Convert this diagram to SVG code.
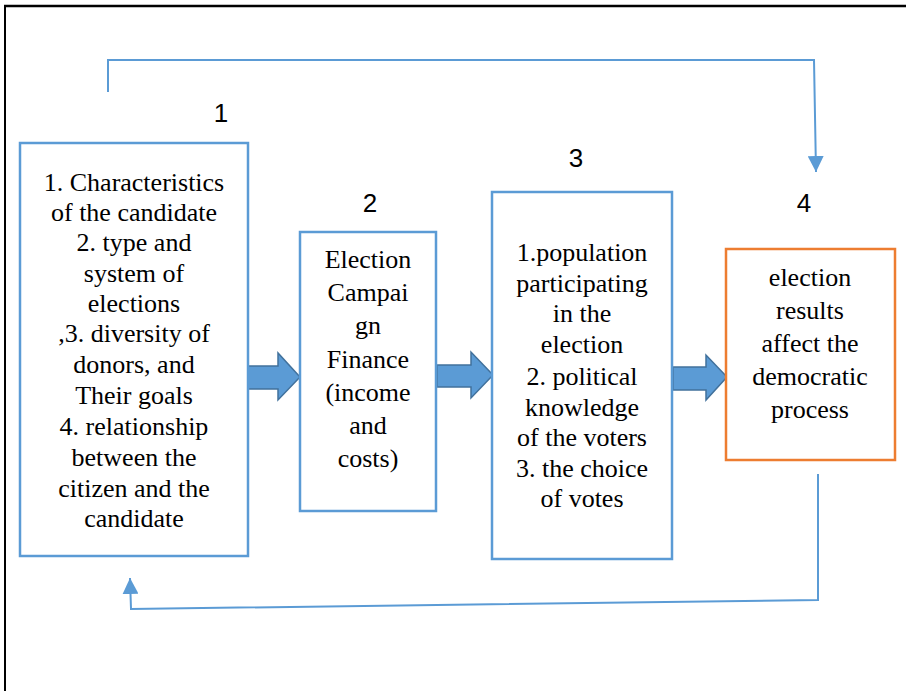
<svg xmlns="http://www.w3.org/2000/svg" width="906" height="691" viewBox="0 0 906 691">
<style>
.box{fill:#ffffff;stroke:#5B9BD5;stroke-width:2.5}
.obox{fill:#ffffff;stroke:#ED7D31;stroke-width:2.5}
.t{font-family:"Liberation Serif","Times New Roman",serif;font-size:26px;fill:#000;text-anchor:middle}
.num{font-family:"Liberation Sans",Arial,sans-serif;font-size:26px;fill:#000;text-anchor:middle}
.conn{fill:none;stroke:#5B9BD5;stroke-width:2}
.blk{fill:#5B9BD5;stroke:#41719C;stroke-width:1.5}
</style>
<defs>
<marker id="ah" markerWidth="16" markerHeight="16" viewBox="0 0 16 16" refX="16" refY="8" orient="auto" markerUnits="userSpaceOnUse">
<path d="M0,0 L16,8 L0,16 Z" fill="#5B9BD5"/>
</marker>
</defs>
<rect width="906" height="691" fill="#ffffff"/>
<g id="frame">
<line x1="4" y1="6" x2="906" y2="6" stroke="#000" stroke-width="2.5"/>
<line x1="5" y1="5" x2="5" y2="691" stroke="#000" stroke-width="2"/>
</g>
<g id="connectors">
<polyline class="conn" points="108,92 108,60 814,60 816,172" marker-end="url(#ah)"/>
<polyline class="conn" points="818,474 818,600 131,609 130,578" marker-end="url(#ah)" stroke-width="1.5"/>
<path class="blk" d="M247,366 L278,366 L278,353 L300,377 L278,400 L278,389 L247,389 Z"/>
<path class="blk" d="M437,365 L471,365 L471,352 L493,375 L471,398 L471,387 L437,387 Z"/>
<path class="blk" d="M673,367 L706,367 L706,355 L727,377 L706,400 L706,390 L673,390 Z"/>
</g>
<g id="node1">
<text class="num" x="221" y="122">1</text>
<rect class="box" x="20" y="143" width="228" height="413"/>
<text class="t" x="134" y="191">1. Characteristics</text>
<text class="t" x="134" y="221">of the candidate</text>
<text class="t" x="134" y="251">2. type and</text>
<text class="t" x="134" y="282">system of</text>
<text class="t" x="134" y="312">elections</text>
<text class="t" x="134" y="342">,3. diversity of</text>
<text class="t" x="134" y="373">donors, and</text>
<text class="t" x="134" y="404">Their goals</text>
<text class="t" x="134" y="435">4. relationship</text>
<text class="t" x="134" y="466">between the</text>
<text class="t" x="134" y="497">citizen and the</text>
<text class="t" x="134" y="527">candidate</text>
</g>
<g id="node2">
<text class="num" x="370" y="212">2</text>
<rect class="box" x="300" y="232" width="136" height="279"/>
<text class="t" x="368" y="268">Election</text>
<text class="t" x="368" y="301">Campai</text>
<text class="t" x="368" y="334">gn</text>
<text class="t" x="368" y="368">Finance</text>
<text class="t" x="368" y="401">(income</text>
<text class="t" x="368" y="434">and</text>
<text class="t" x="368" y="467">costs)</text>
</g>
<g id="node3">
<text class="num" x="576" y="167">3</text>
<rect class="box" x="492" y="192" width="180" height="367"/>
<text class="t" x="582" y="261">1.population</text>
<text class="t" x="582" y="292">participating</text>
<text class="t" x="582" y="322">in the</text>
<text class="t" x="582" y="353">election</text>
<text class="t" x="582" y="385">2. political</text>
<text class="t" x="582" y="416">knowledge</text>
<text class="t" x="582" y="446">of the voters</text>
<text class="t" x="582" y="477">3. the choice</text>
<text class="t" x="582" y="507">of votes</text>
</g>
<g id="node4">
<text class="num" x="804" y="212">4</text>
<rect class="obox" x="726" y="249" width="169" height="211"/>
<text class="t" x="810" y="286">election</text>
<text class="t" x="810" y="319">results</text>
<text class="t" x="810" y="352">affect the</text>
<text class="t" x="810" y="385">democratic</text>
<text class="t" x="810" y="418">process</text>
</g>
</svg>
